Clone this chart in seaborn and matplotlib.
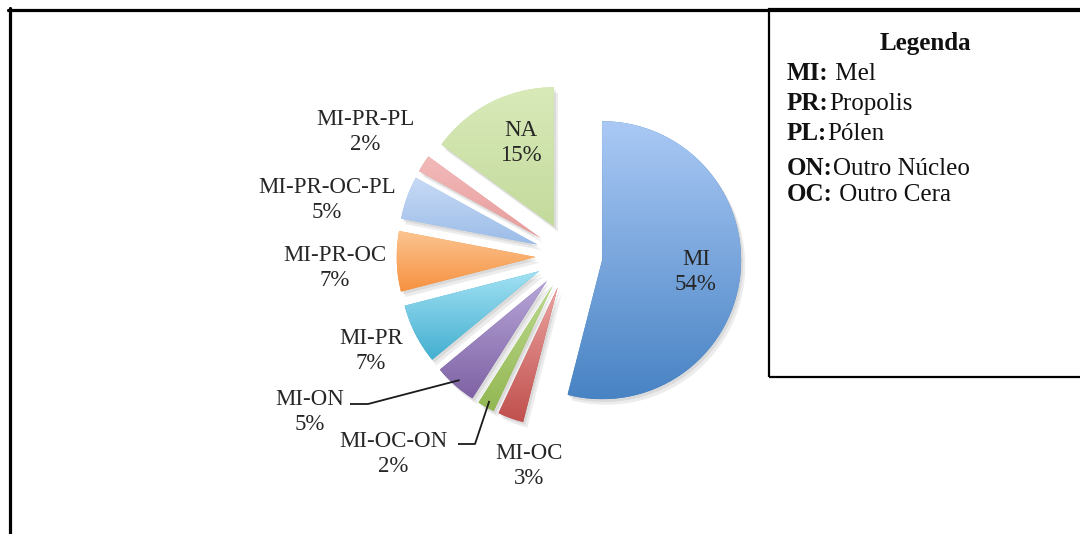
import numpy as np
import matplotlib
matplotlib.use("Agg")
import matplotlib.pyplot as plt
import seaborn as sns
import matplotlib.patheffects as pe
from matplotlib.patches import Rectangle
from matplotlib.lines import Line2D

# ---- data ----
categories = ["MI", "MI-OC", "MI-OC-ON", "MI-ON", "MI-PR",
              "MI-PR-OC", "MI-PR-OC-PL", "MI-PR-PL", "NA"]
shares = [54, 3, 2, 5, 7, 7, 5, 2, 15]

legend_title = "Legenda"
legend_codes = ["MI:", "PR:", "PL:", "ON:", "OC:"]
legend_names = [" Mel", "Propolis", "Pólen", "Outro Núcleo", " Outro Cera"]

# ---- style ----
sns.set_style("white")
plt.rcParams["font.family"] = ["Liberation Serif", "DejaVu Serif"]

# light (top) and dark (bottom) ends of each slice's vertical gradient
top_colors = ["#aac9f5", "#eba3a1", "#bcd98d", "#b6a6d8", "#a2e1f3",
              "#fcc490", "#c7daf5", "#f3baba", "#d9eab9"]
bottom_colors = ["#4883c4", "#c0504d", "#93b753", "#7f62a4", "#43afd0",
                 "#f6913f", "#9bbce8", "#e79c9c", "#c3da9c"]

W, H = 1080, 534
CX, CY, R = 569, 256, 139          # pie centre / radius in pixels
EXPLODE = 0.24

fig = plt.figure(figsize=(W / 100, H / 100), dpi=100)
fig.patch.set_facecolor("white")
ax = fig.add_axes([0, 0, 1, 1])
ax.set_axis_off()


def px(x, y):
    """pixel position -> data units of the pie axes"""
    return (x - CX) / R, (CY - y) / R


wedges, _ = ax.pie(shares, startangle=90, counterclock=False, radius=1,
                   explode=[EXPLODE] * len(shares),
                   colors=bottom_colors,
                   wedgeprops=dict(linewidth=0))

for w, c_top, c_bot in zip(wedges, top_colors, bottom_colors):
    w.set_path_effects([
        pe.SimplePatchShadow(offset=(3, -4), shadow_rgbFace="#9a9a9a", alpha=0.18),
        pe.SimplePatchShadow(offset=(1.5, -2), shadow_rgbFace="#8a8a8a", alpha=0.18),
        pe.Normal()])
    ext = w.get_path().get_extents()
    grad = np.array(sns.blend_palette([c_top, c_bot], 200))[:, None, :3]
    im = ax.imshow(grad, extent=(ext.x0, ext.x1, ext.y0, ext.y1),
                   origin="upper", aspect="auto", interpolation="bilinear",
                   zorder=w.get_zorder() + 0.1)
    im.set_clip_path(w)

ax.set_xlim(px(0, 0)[0], px(W, 0)[0])
ax.set_ylim(px(0, H)[1], px(0, 0)[1])

# ---- slice labels ----
label_pos = {
    "MI": (696, 272), "NA": (521, 143),
    "MI-PR-PL": (365, 132), "MI-PR-OC-PL": (327, 200),
    "MI-PR-OC": (335, 268), "MI-PR": (371, 351),
    "MI-ON": (310, 412), "MI-OC-ON": (393, 454), "MI-OC": (529, 466),
}
label_fs = 16.5
for cat, val in zip(categories, shares):
    x, y = px(*label_pos[cat])
    ax.text(x, y, f"{cat}\n{val}%", ha="center", va="center",
            fontsize=label_fs, color="#262626", linespacing=1.3, zorder=5)

# leader lines from the two narrow slices to their labels
leaders = {"MI-ON": ((350, 404), (368, 404)),
           "MI-OC-ON": ((458, 444), (475, 444))}
theta = np.deg2rad(90 - 360 * (np.cumsum(shares) - np.array(shares) / 2) / 100)
for cat, (p0, p1) in leaders.items():
    i = categories.index(cat)
    vx, vy = EXPLODE * np.cos(theta[i]), EXPLODE * np.sin(theta[i])
    ex, ey = vx + 0.95 * np.cos(theta[i]), vy + 0.95 * np.sin(theta[i])
    (x0, y0), (x1, y1) = px(*p0), px(*p1)
    ax.plot([x0, x1, ex], [y0, y1, ey], color="#1a1a1a", lw=1.3,
            solid_capstyle="butt", zorder=6)

# ---- outer frame and legend box ----
fig.add_artist(Line2D([8 / W, 1], [1 - 9.5 / H, 1 - 9.5 / H],
                      transform=fig.transFigure, color="black", lw=2.3))
fig.add_artist(Line2D([9.5 / W, 9.5 / W], [0, 1 - 8 / H],
                      transform=fig.transFigure, color="black", lw=2.3))
fig.add_artist(Rectangle((769 / W, 1 - 377 / H), 0.5, (377 - 9) / H,
                         transform=fig.transFigure, fill=False,
                         edgecolor="black", lw=1.6))

leg_fs = 18
fig.text(925 / W, 1 - 50 / H, legend_title, ha="center", va="baseline",
         fontsize=leg_fs, fontweight="bold", color="#111111")
leg_baselines = [80, 110, 140, 175, 201]
for code, name, yb in zip(legend_codes, legend_names, leg_baselines):
    t = fig.text(787 / W, 1 - yb / H, code, ha="left", va="baseline",
                 fontsize=leg_fs, fontweight="bold", color="#111111")
    ax.annotate(name, xy=(1, 0), xycoords=t, ha="left", va="bottom",
                fontsize=leg_fs, color="#111111", annotation_clip=False)

fig.savefig("out.png", dpi=100, facecolor="white")
